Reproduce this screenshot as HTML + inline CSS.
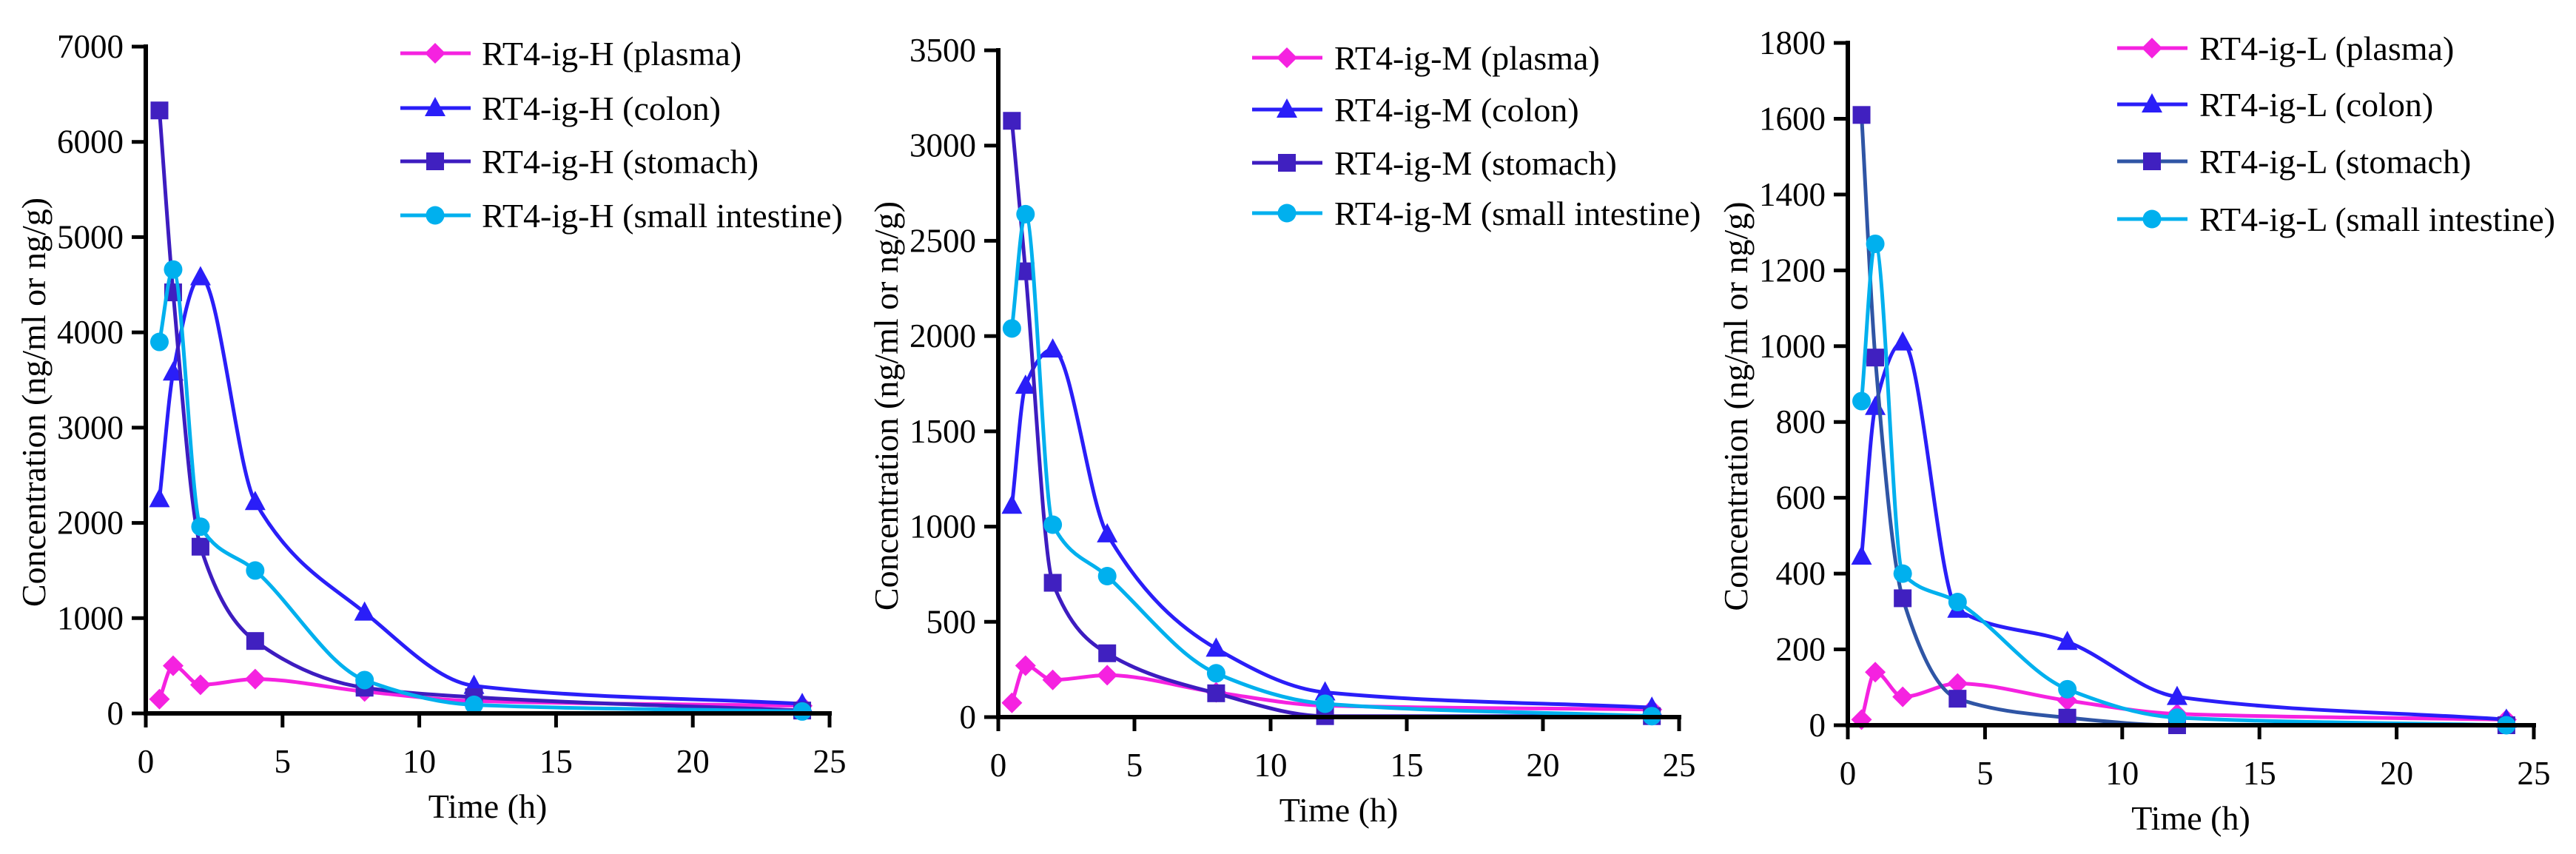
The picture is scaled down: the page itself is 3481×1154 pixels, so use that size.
<!DOCTYPE html>
<html><head><meta charset="utf-8">
<style>
html,body{margin:0;padding:0;background:#fff;}
svg{display:block;}
svg text{font-family:"Liberation Serif","Times New Roman",serif !important;fill:#000;}
</style></head>
<body>
<svg id="fig" width="3481" height="1154" viewBox="0 0 3481 1154" xmlns="http://www.w3.org/2000/svg"></svg>
<script>
const times = [0.5, 1, 2, 4, 8, 12, 24];
const xTicks = [0, 5, 10, 15, 20, 25];
const seriesNames = ["plasma", "colon", "stomach", "small intestine"];

const hPlasma = [150, 500, 300, 360, 230, 130, 80];
const hColon = [2250, 3580, 4580, 2220, 1060, 290, 100];
const hStomach = [6330, 4420, 1750, 760, 270, 170, 30];
const hSI = [3900, 4660, 1960, 1500, 350, 90, 20];
const hYTicks = [0, 1000, 2000, 3000, 4000, 5000, 6000, 7000];

const mPlasma = [75, 270, 195, 220, 130, 60, 40];
const mColon = [1110, 1740, 1930, 960, 360, 130, 50];
const mStomach = [3130, 2340, 705, 335, 125, 5, 5];
const mSI = [2040, 2640, 1010, 740, 230, 70, 5];
const mYTicks = [0, 500, 1000, 1500, 2000, 2500, 3000, 3500];

const lPlasma = [15, 140, 75, 110, 65, 30, 15];
const lColon = [445, 840, 1010, 305, 220, 75, 15];
const lStomach = [1610, 970, 335, 70, 20, 0, 0];
const lSI = [855, 1270, 400, 325, 95, 20, 0];
const lYTicks = [0, 200, 400, 600, 800, 1000, 1200, 1400, 1600, 1800];

const NS = "http://www.w3.org/2000/svg";
const fig = document.getElementById("fig");
function mk(tag, attrs, parent) {
  const e = document.createElementNS(NS, tag);
  for (const k in attrs) e.setAttribute(k, attrs[k]);
  parent.appendChild(e);
  return e;
}
function txt(parent, x, y, size, anchor, content, extra) {
  const t = mk("text", Object.assign({x: x, y: y, "text-anchor": anchor,
    "font-family": "Liberation Serif, Times New Roman, serif", "font-size": size,
    style: "font-family:'Liberation Serif','Times New Roman',serif;font-size:" + size + "px"}, extra || {}), parent);
  t.textContent = content;
  return t;
}
function smoothPath(pts) {
  const n = pts.length;
  const dx = [], dy = [], m = [];
  for (let i = 0; i < n - 1; i++) { dx.push(pts[i+1][0]-pts[i][0]); dy.push(pts[i+1][1]-pts[i][1]); m.push(dy[i]/dx[i]); }
  const t = [m[0]];
  for (let i = 1; i < n - 1; i++) {
    if (m[i-1] * m[i] <= 0) t.push(0);
    else { const w1 = 2*dx[i]+dx[i-1], w2 = dx[i]+2*dx[i-1]; t.push((w1+w2)/(w1/m[i-1]+w2/m[i])); }
  }
  t.push(m[n-2]);
  let d = "M" + pts[0][0] + "," + pts[0][1];
  for (let i = 0; i < n - 1; i++) {
    const h = dx[i] / 3;
    d += " C" + (pts[i][0]+h) + "," + (pts[i][1]+t[i]*h) + " " + (pts[i+1][0]-h) + "," + (pts[i+1][1]-t[i+1]*h) + " " + pts[i+1][0] + "," + pts[i+1][1];
  }
  return d;
}
function marker(g, kind, x, y, color) {
  let e;
  if (kind === "diamond") e = mk("polygon", {points: `${x},${y-14} ${x+14},${y} ${x},${y+14} ${x-14},${y}`, fill: color}, g);
  else if (kind === "triangle") e = mk("polygon", {points: `${x},${y-15} ${x+14},${y+11} ${x-14},${y+11}`, fill: color}, g);
  else if (kind === "square") e = mk("rect", {x: x-12, y: y-12, width: 24, height: 24, fill: color}, g);
  else e = mk("circle", {cx: x, cy: y, r: 12.5, fill: color}, g);
  return e;
}

const charts = [
  {key: "H", ax: 197, ax2: 1121, y0: 964, yTop: 63, ymax: 7000, yt: hYTicks, data: [hPlasma, hColon, hStomach, hSI],
   lx: 541, ltx: 651, lys: [72, 146, 218, 291], stomachLine: "#3d1cc0"},
  {key: "M", ax: 1349, ax2: 2269, y0: 969, yTop: 68, ymax: 3500, yt: mYTicks, data: [mPlasma, mColon, mStomach, mSI],
   lx: 1692, ltx: 1803, lys: [78, 148, 220, 288], stomachLine: "#3d1cc0"},
  {key: "L", ax: 2497, ax2: 3424, y0: 980, yTop: 58, ymax: 1800, yt: lYTicks, data: [lPlasma, lColon, lStomach, lSI],
   lx: 2861, ltx: 2972, lys: [65, 141, 218, 296], stomachLine: "#2f55a5"}
];
const colors = ["#f522e0", "#2a1ef8", "#3d1cc0", "#00b0ee"];
const markerColors = ["#f522e0", "#2a1ef8", "#4020c0", "#00b0ee"];
const kinds = ["diamond", "triangle", "square", "circle"];
const seriesKeys = ["plasma", "colon", "stomach", "small-intestine"];

charts.forEach((c) => {
  const g = mk("g", {}, fig);
  
  
  const xs = v => c.ax + (v / 25) * (c.ax2 - c.ax);
  const ys = v => c.y0 - (v / c.ymax) * (c.y0 - c.yTop);

  c.data.forEach((vals, si) => {
    const sg = mk("g", {}, g);
    
    
    const pts = vals.map((v, i) => [xs(times[i]), ys(v)]);
    const lc = si === 2 ? c.stomachLine : colors[si];
    const p = mk("path", {d: smoothPath(pts), fill: "none", stroke: lc, "stroke-width": 5}, sg);
    
    
    pts.forEach((pt, i) => {
      const m = marker(sg, kinds[si], pt[0], pt[1], markerColors[si]);
      
      
    });
  });

  const yAxis = mk("line", {x1: c.ax, y1: c.yTop - 3, x2: c.ax, y2: c.y0 + 3, stroke: "#000", "stroke-width": 6}, g);
  
  
  const xAxis = mk("line", {x1: c.ax - 3, y1: c.y0, x2: c.ax2 + 3, y2: c.y0, stroke: "#000", "stroke-width": 6}, g);
  
  

  c.yt.forEach(v => {
    const y = ys(v);
    mk("line", {x1: c.ax - 19, y1: y, x2: c.ax, y2: y, stroke: "#000", "stroke-width": 5}, g);
    const t = txt(g, c.ax - 30, y + 15, 45, "end", v);
    
    
  });
  xTicks.forEach(v => {
    const x = xs(v);
    mk("line", {x1: x, y1: c.y0, x2: x, y2: c.y0 + 19, stroke: "#000", "stroke-width": 5}, g);
    const t = txt(g, x, c.y0 + 80, 45, "middle", v);
    
    
  });

  const xt = txt(g, (c.ax + c.ax2) / 2, c.y0 + 141, 46, "middle", "Time (h)");
  
  
  const ytx = c.ax - 136, ytyc = (c.y0 + c.yTop) / 2 + 30;
  const yt = txt(g, ytx, ytyc, 46, "middle", "Concentration (ng/ml or ng/g)", {transform: `rotate(-90 ${ytx} ${ytyc})`});
  
  

  const lg = mk("g", {}, g);
  
  
  seriesNames.forEach((n, si) => {
    const ly = c.lys[si];
    const eg = mk("g", {}, lg);
    
    
    const lc = si === 2 ? c.stomachLine : colors[si];
    mk("line", {x1: c.lx, y1: ly, x2: c.lx + 95, y2: ly, stroke: lc, "stroke-width": 5}, eg);
    marker(eg, kinds[si], c.lx + 47, ly, markerColors[si]);
    txt(eg, c.ltx, ly + 16, 46, "start", "RT4-ig-" + c.key + " (" + n + ")");
  });
});
</script>
</body></html>
